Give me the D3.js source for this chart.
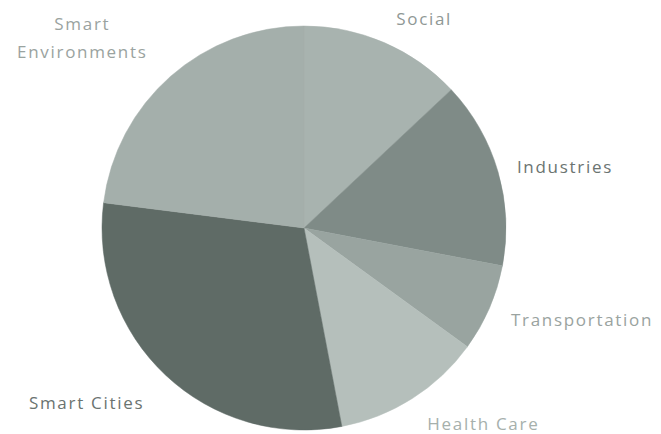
<!DOCTYPE html>
<html>
<head>
<meta charset="utf-8">
<script src="https://cdn.jsdelivr.net/npm/d3@7"></script>
<style>
  body { margin: 0; background: #fff; }
  svg text { font-family: "Open Sans", "DejaVu Sans", sans-serif; }
</style>
</head>
<body>
<script>
// slices, clockwise from 12 o'clock
var categories = ["Social", "Industries", "Transportation", "Health Care", "Smart Cities", "Smart Environments"];
var shares = [13, 15, 7, 12, 30, 23];

var sliceColors = ["#a8b3af", "#7f8b87", "#99a4a0", "#b5bfbb", "#5f6b66", "#a4afab"];
var labelColors = ["#8f9895", "#6b7471", "#9aa3a0", "#a6b0ac", "#6a7370", "#9aa3a0"];

// label layout: [angle nudge in degrees, distance from centre]
var labelLayout = [[6.5, 241], [3, 268], [-5, 293], [-10, 266], [8, 279], [-8, 292]];

var w = 661, h = 434, cx = 304, cy = 228, r = 202;

var svg = d3.select("body").append("svg")
  .attr("width", w)
  .attr("height", h);

var pie = d3.pie().sort(null).value(d => d.value);
var arc = d3.arc().innerRadius(0).outerRadius(r);

var data = categories.map((c, i) => ({ name: c, value: shares[i], i: i }));
var arcs = pie(data);

var g = svg.append("g").attr("transform", `translate(${cx}, ${cy})`);

g.selectAll("path.slice")
  .data(arcs)
  .enter()
  .append("path")
  .attr("class", "slice")
  .attr("d", arc)
  .attr("fill", d => sliceColors[d.data.i])
  .attr("stroke", d => sliceColors[d.data.i])
  .attr("stroke-width", 0.5);

// labels outside the pie
var labels = g.selectAll("text.label")
  .data(arcs)
  .enter()
  .append("text")
  .attr("class", "label")
  .attr("text-anchor", "middle")
  .attr("font-size", "17px")
  .attr("letter-spacing", "1.7px")
  .attr("fill", d => labelColors[d.data.i])
  .attr("transform", d => {
    var lay = labelLayout[d.data.i];
    var a = (d.startAngle + d.endAngle) / 2 + lay[0] * Math.PI / 180;
    var x = Math.sin(a) * lay[1], y = -Math.cos(a) * lay[1];
    return `translate(${x}, ${y})`;
  });

labels.each(function(d) {
  var words = d.data.name === "Smart Environments" ? ["Smart", "Environments"] : [d.data.name];
  var t = d3.select(this);
  words.forEach((wd, k) => {
    t.append("tspan")
      .attr("x", 0)
      .attr("dy", k === 0 ? (words.length > 1 ? "-0.45em" : "0.35em") : "1.6em")
      .text(wd);
  });
});
</script>
</body>
</html>
